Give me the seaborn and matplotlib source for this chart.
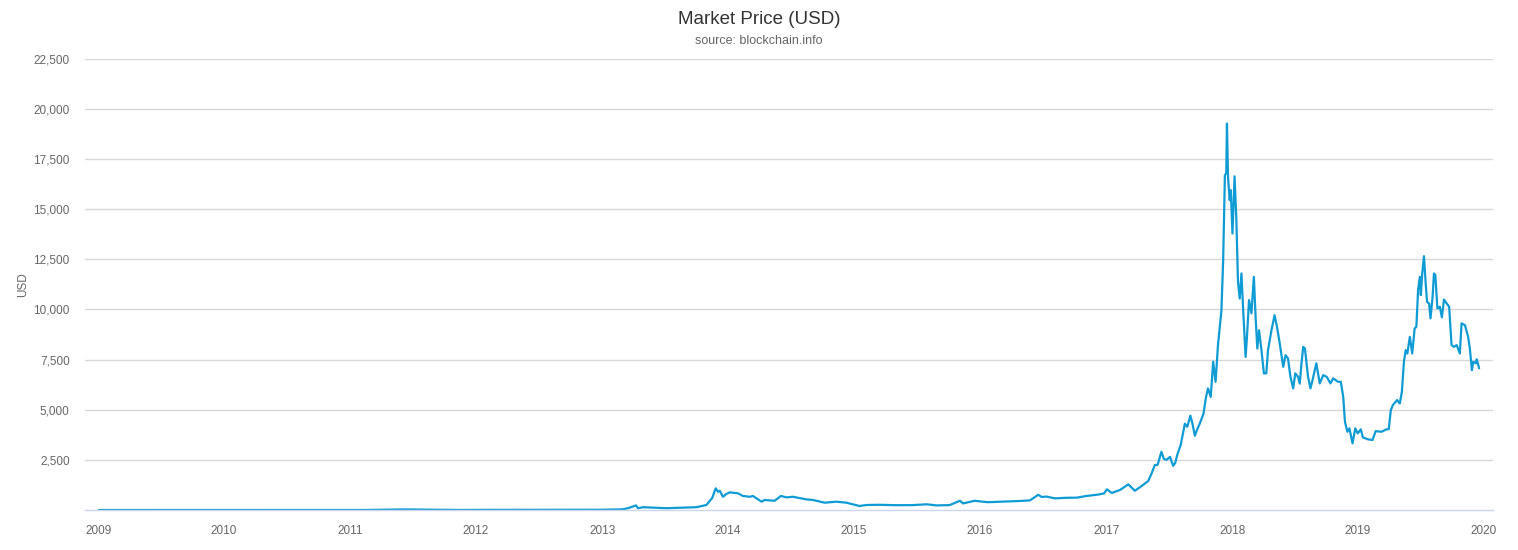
import matplotlib
matplotlib.use("Agg")
import matplotlib.dates as mdates
import matplotlib.pyplot as plt
import matplotlib.ticker as mticker
import pandas as pd
import seaborn as sns

# values (daily market price, USD)
dates = [
    "2009-01-03", "2010-08-17", "2010-11-06", "2011-02-10", "2011-06-08", "2011-11-18",
    "2012-01-09", "2012-08-16", "2012-12-31", "2013-02-28", "2013-03-17", "2013-04-09",
    "2013-04-15", "2013-04-30", "2013-07-06", "2013-10-01", "2013-10-30", "2013-11-16",
    "2013-11-26", "2013-12-03", "2013-12-08", "2013-12-17", "2013-12-27",
    "2014-01-06", "2014-01-30", "2014-02-13", "2014-03-05", "2014-03-14", "2014-04-08",
    "2014-04-17", "2014-05-16", "2014-06-03", "2014-06-19", "2014-07-08", "2014-08-16",
    "2014-09-04", "2014-10-08", "2014-11-11", "2014-12-10",
    "2015-01-17", "2015-02-06", "2015-03-16", "2015-05-04", "2015-06-21", "2015-07-30",
    "2015-08-28", "2015-10-05", "2015-11-04", "2015-11-13", "2015-12-17",
    "2016-01-01", "2016-01-24", "2016-03-09", "2016-04-26", "2016-05-25", "2016-06-18",
    "2016-06-28", "2016-07-12", "2016-08-05", "2016-09-08", "2016-10-07", "2016-11-05",
    "2016-12-09", "2016-12-26",
    "2017-01-03", "2017-01-17", "2017-02-10", "2017-03-06", "2017-03-25", "2017-04-14",
    "2017-05-03", "2017-05-12", "2017-05-22", "2017-05-30", "2017-06-10", "2017-06-17",
    "2017-06-25", "2017-07-05", "2017-07-14", "2017-07-20", "2017-07-26", "2017-08-05",
    "2017-08-17", "2017-08-24", "2017-09-02", "2017-09-08", "2017-09-15", "2017-09-20",
    "2017-09-29", "2017-10-10", "2017-10-17", "2017-10-23",
    "2017-10-31", "2017-11-07", "2017-11-14", "2017-11-21", "2017-12-01", "2017-12-06",
    "2017-12-11", "2017-12-15", "2017-12-17", "2017-12-20", "2017-12-25", "2017-12-28",
    "2018-01-02", "2018-01-08", "2018-01-13", "2018-01-18", "2018-01-23", "2018-01-28",
    "2018-02-02", "2018-02-09", "2018-02-13", "2018-02-19", "2018-02-26", "2018-03-05",
    "2018-03-10", "2018-03-15", "2018-03-20", "2018-03-27", "2018-04-03", "2018-04-10",
    "2018-04-15", "2018-04-25", "2018-05-04", "2018-05-11", "2018-05-19", "2018-05-29",
    "2018-06-05", "2018-06-12", "2018-06-19", "2018-06-27", "2018-07-03", "2018-07-11",
    "2018-07-16", "2018-07-21", "2018-07-26", "2018-07-31", "2018-08-09", "2018-08-16",
    "2018-08-22", "2018-09-02", "2018-09-12", "2018-09-22", "2018-10-02", "2018-10-13",
    "2018-10-21", "2018-11-04", "2018-11-12", "2018-11-19", "2018-11-24", "2018-12-01",
    "2018-12-07", "2018-12-16", "2018-12-24", "2018-12-31",
    "2019-01-09", "2019-01-15", "2019-01-30", "2019-02-12", "2019-02-21", "2019-03-10",
    "2019-03-24", "2019-03-31", "2019-04-06", "2019-04-12", "2019-04-24", "2019-05-02",
    "2019-05-08", "2019-05-14", "2019-05-19", "2019-05-24", "2019-05-31", "2019-06-07",
    "2019-06-14", "2019-06-19", "2019-06-24", "2019-06-29", "2019-07-02", "2019-07-06",
    "2019-07-11", "2019-07-16", "2019-07-20", "2019-07-26", "2019-07-30", "2019-08-05",
    "2019-08-09", "2019-08-13", "2019-08-19", "2019-08-26", "2019-09-01", "2019-09-07",
    "2019-09-15", "2019-09-22", "2019-09-29", "2019-10-06", "2019-10-14", "2019-10-23",
    "2019-10-28", "2019-11-07", "2019-11-16", "2019-11-21", "2019-11-27", "2019-12-01",
    "2019-12-08", "2019-12-11", "2019-12-18",
]
prices = [
    0, 0.07, 0.39, 1.0, 29.6, 2.2,
    7, 13.5, 13.5, 33, 90, 230,
    90, 140, 90, 140, 250, 600,
    1080, 910, 960, 660, 800,
    880, 830, 700, 660, 700, 415,
    500, 460, 700, 630, 660, 530,
    500, 365, 415, 365,
    200, 250, 260, 240, 245, 285,
    230, 245, 460, 330, 460,
    430, 390, 420, 450, 480, 760,
    650, 670, 580, 610, 615, 700,
    770, 830,
    1030, 850, 1000, 1280, 960, 1200,
    1450, 1800, 2240, 2250, 2900, 2550,
    2500, 2650, 2200, 2350, 2750, 3250,
    4300, 4150, 4700, 4300, 3700, 3950,
    4300, 4800, 5600, 6060,
    5640, 7390, 6390, 8220, 9960, 12450,
    16680, 16800, 19260, 16600, 15440, 15940,
    13780, 16630, 14610, 11370, 10540, 11790,
    9960, 7630, 8630, 10460, 9800, 11620,
    9630, 8050, 8960, 7970, 6810, 6810,
    7970, 8960, 9710, 9130, 8300, 7140,
    7720, 7550, 6640, 6060, 6810, 6640,
    6300, 7300, 8130, 8050, 6640, 6060,
    6470, 7310, 6310, 6720, 6640, 6310,
    6560, 6390, 6390, 5640, 4400, 3900,
    4070, 3320, 4070, 3820,
    4020, 3620, 3520, 3490, 3930, 3900,
    4020, 4030, 4980, 5230, 5480, 5310,
    5890, 7390, 7970, 7800, 8630, 7800,
    9050, 9130, 10960, 11620, 10710, 11790,
    12650, 11290, 10370, 10290, 9550, 10620,
    11790, 11700, 10040, 10130, 9600, 10490,
    10290, 10130, 8220, 8130, 8220, 7800,
    9300, 9210, 8630, 8050, 6970, 7390,
    7310, 7510, 7060,
]
y_ticks = [2500, 5000, 7500, 10000, 12500, 15000, 17500, 20000, 22500]
years = list(range(2009, 2021))

df = pd.DataFrame({"Date": pd.to_datetime(dates), "USD": prices})

sns.set_style("white")
plt.rcParams["font.family"] = ["Liberation Sans", "DejaVu Sans"]

fig = plt.figure(figsize=(15.18, 5.5), dpi=100)
ax = fig.add_axes([0.056, 0.0727, 0.9275, 0.8209])

sns.lineplot(data=df, x="Date", y="USD", ax=ax, color="#0f9bd4", linewidth=1.6)

ax.set_xlim(pd.Timestamp("2008-11-24"), pd.Timestamp("2020-01-27"))
ax.set_ylim(0, 22500)

ax.set_yticks(y_ticks)
ax.yaxis.set_major_formatter(mticker.FuncFormatter(lambda v, p: f"{int(v):,}"))
ax.set_xticks([pd.Timestamp(f"{y}-01-01") for y in years])
ax.xaxis.set_major_formatter(mdates.DateFormatter("%Y"))

ax.grid(axis="y", color="#d8d8d8", linewidth=1)
ax.grid(axis="x", visible=False)
for side in ["top", "right", "left"]:
    ax.spines[side].set_visible(False)
ax.spines["bottom"].set_color("#ccd6eb")
ax.spines["bottom"].set_linewidth(1)

ax.tick_params(axis="x", direction="out", length=9, width=1, color="#ccd6eb",
               labelsize=8.5, labelcolor="#666666", pad=2)
ax.tick_params(axis="y", length=0, labelsize=8.5, labelcolor="#666666", pad=11)

ax.set_xlabel("")
ax.set_ylabel("USD", color="#666666", fontsize=8.5, labelpad=3)

fig.text(0.5, 1 - 19 / 550, "Market Price (USD)", ha="center", va="center",
         fontsize=13.5, color="#333333")
fig.text(0.5, 1 - 41 / 550, "source: blockchain.info", ha="center", va="center",
         fontsize=9, color="#666666")

fig.savefig("out.png", dpi=100)
